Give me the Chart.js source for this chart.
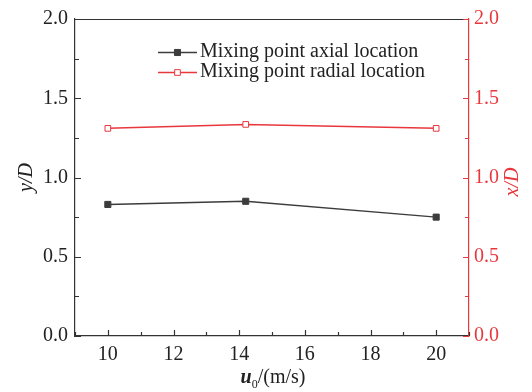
<!DOCTYPE html>
<html>
<head>
    <title>Mixing point location</title>
    <script src="https://cdn.jsdelivr.net/npm/chart.js@4/dist/chart.umd.min.js"></script>
    <style>
        body { margin: 0; background: #fff; }
        #wrap { width: 532px; height: 392px; }
    </style>
</head>
<body>
<div id="wrap"><canvas id="chart"></canvas></div>

<script type="text/javascript">
    // values
    const speeds = [10, 14.2, 20];             // u0 (m/s)
    const axialLoc = [0.83, 0.85, 0.75];       // y/D
    const radialLoc = [1.31, 1.335, 1.31];     // x/D
    const xTicks = [10, 12, 14, 16, 18, 20];
    const yTicks = [0, 0.5, 1.0, 1.5, 2.0];
    const labels = ['Mixing point axial location', 'Mixing point radial location'];

    const BLACK = '#333333';
    const GREY = '#3c3c3c';
    const RED = '#e8383d';
    const FONT = '"Liberation Serif", "Times New Roman", serif';

    function pts(ys) {
        return speeds.map((x, i) => ({x: x, y: ys[i]}));
    }

    // inward tick marks, top frame line, titles, legend
    const decorations = {
        id: 'decorations',
        afterDraw(chart) {
            const ctx = chart.ctx;
            const a = chart.chartArea;
            const sx = chart.scales.x, sy = chart.scales.y, sy2 = chart.scales.y2;
            ctx.save();
            ctx.lineWidth = 1.2;

            ctx.strokeStyle = BLACK;
            ctx.beginPath();
            ctx.moveTo(a.left, a.top + 0.5);
            ctx.lineTo(a.right, a.top + 0.5);
            for (let v = 9; v <= 21; v++) {
                const px = Math.round(sx.getPixelForValue(v)) + 0.5;
                const len = v % 2 === 0 ? 6 : 4;
                ctx.moveTo(px, a.bottom);
                ctx.lineTo(px, a.bottom - len);
            }
            for (let i = 0; i <= 8; i++) {
                const py = Math.round(sy.getPixelForValue(i * 0.25)) + 0.5;
                const len = i % 2 === 0 ? 6 : 4;
                ctx.moveTo(a.left, py);
                ctx.lineTo(a.left + len, py);
            }
            ctx.stroke();

            ctx.strokeStyle = RED;
            ctx.beginPath();
            for (let i = 0; i <= 8; i++) {
                const py = Math.round(sy2.getPixelForValue(i * 0.25)) + 0.5;
                const len = i % 2 === 0 ? 6 : 4;
                ctx.moveTo(a.right, py);
                ctx.lineTo(a.right - len, py);
            }
            ctx.stroke();

            // right axis title, reading bottom to top
            ctx.save();
            ctx.translate(513, 182);
            ctx.rotate(-Math.PI / 2);
            ctx.fillStyle = RED;
            ctx.font = 'italic 20px ' + FONT;
            ctx.textAlign = 'center';
            ctx.textBaseline = 'middle';
            ctx.fillText('x/D', 0, 0);
            ctx.restore();

            // x axis title: u0/(m/s)
            ctx.fillStyle = '#222';
            ctx.textBaseline = 'alphabetic';
            ctx.textAlign = 'left';
            const base = 383;
            ctx.font = 'italic bold 20px ' + FONT;
            const wU = ctx.measureText('u').width;
            ctx.font = '12px ' + FONT;
            const w0 = ctx.measureText('0').width;
            ctx.font = '20px ' + FONT;
            const wR = ctx.measureText('/(m/s)').width;
            let tx = (a.left + a.right) / 2 - (wU + w0 + wR) / 2 + 1;
            ctx.font = 'italic bold 20px ' + FONT;
            ctx.fillText('u', tx, base);
            tx += wU;
            ctx.font = '12px ' + FONT;
            ctx.fillText('0', tx, base + 5);
            tx += w0;
            ctx.font = '20px ' + FONT;
            ctx.fillText('/(m/s)', tx, base);

            // legend
            const rows = [52, 72];
            chart.data.datasets.forEach((ds, i) => {
                const y = rows[i];
                ctx.strokeStyle = ds.borderColor;
                ctx.lineWidth = 1.5;
                ctx.beginPath();
                ctx.moveTo(158, y + 0.5);
                ctx.lineTo(197, y + 0.5);
                ctx.stroke();
                ctx.lineWidth = 1;
                ctx.fillStyle = ds.pointBackgroundColor;
                ctx.strokeStyle = ds.pointBorderColor;
                Chart.helpers.drawPoint(ctx, {
                    pointStyle: 'rect', radius: ds.pointRadius, borderWidth: 1
                }, 177.5, y + 0.5);
                ctx.fillStyle = '#222';
                ctx.font = '20px ' + FONT;
                ctx.textBaseline = 'middle';
                ctx.fillText(ds.label, 200, y);
            });
            ctx.restore();
        }
    };

    const tickFont = {family: FONT, size: 20};

    let chart = new Chart(document.getElementById('chart').getContext('2d'), {
        type: 'line',
        data: {
            datasets: [
                {
                    label: labels[0],
                    data: pts(axialLoc),
                    yAxisID: 'y',
                    borderColor: GREY,
                    borderWidth: 1.5,
                    pointStyle: 'rect',
                    pointRadius: 4.3,
                    pointBackgroundColor: GREY,
                    pointBorderColor: GREY,
                    pointBorderWidth: 1
                },
                {
                    label: labels[1],
                    data: pts(radialLoc),
                    yAxisID: 'y2',
                    borderColor: RED,
                    borderWidth: 1.5,
                    pointStyle: 'rect',
                    pointRadius: 4,
                    pointBackgroundColor: '#ffffff',
                    pointBorderColor: RED,
                    pointBorderWidth: 1
                }
            ]
        },
        options: {
            responsive: true,
            maintainAspectRatio: false,
            animation: false,
            layout: { padding: { top: 16, left: 0, right: 0, bottom: 0 } },
            plugins: {
                legend: { display: false },
                tooltip: { enabled: false }
            },
            scales: {
                x: {
                    type: 'linear',
                    min: 9,
                    max: 21,
                    afterBuildTicks: s => { s.ticks = xTicks.map(v => ({value: v})); },
                    afterFit: s => { s.height = 56; },
                    grid: { display: false, drawTicks: false },
                    border: { display: true, color: BLACK, width: 1.2 },
                    ticks: { font: tickFont, color: '#222', padding: 7 }
                },
                y: {
                    position: 'left',
                    min: 0,
                    max: 2,
                    afterBuildTicks: s => { s.ticks = yTicks.map(v => ({value: v})); },
                    afterFit: s => { s.width = 75; },
                    grid: { display: false, drawTicks: false },
                    border: { display: true, color: BLACK, width: 1.2 },
                    ticks: { font: tickFont, color: '#222', padding: 7, callback: v => v.toFixed(1) },
                    title: {
                        display: true, text: 'y/D', color: '#222',
                        font: {family: FONT, size: 20, style: 'italic'},
                        padding: {top: 15, bottom: 0}
                    }
                },
                y2: {
                    position: 'right',
                    min: 0,
                    max: 2,
                    afterBuildTicks: s => { s.ticks = yTicks.map(v => ({value: v})); },
                    afterFit: s => { s.width = 63; },
                    grid: { display: false, drawTicks: false },
                    border: { display: true, color: RED, width: 1.2 },
                    ticks: { font: tickFont, color: RED, padding: 5, callback: v => v.toFixed(1) }
                }
            }
        },
        plugins: [decorations]
    });
</script>
</body>
</html>
